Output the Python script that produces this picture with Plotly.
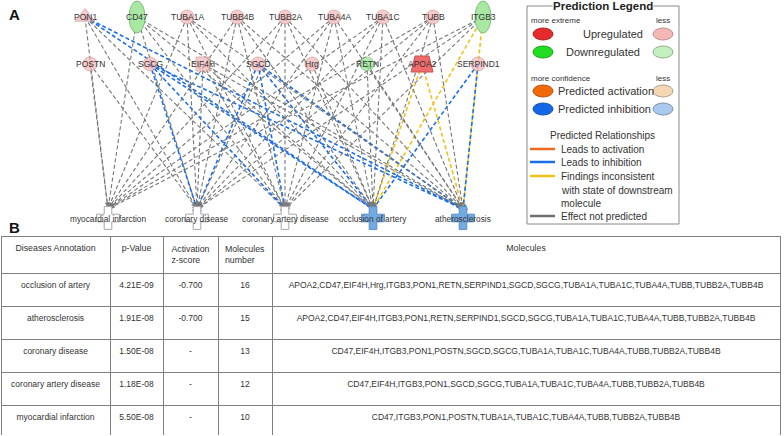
import plotly.graph_objects as go

# ---------------- data ----------------
top_row = ["PON1", "CD47", "TUBA1A", "TUBB4B", "TUBB2A", "TUBA4A", "TUBA1C", "TUBB", "ITGB3"]
mid_row = ["POSTN", "SGCG", "EIF4H", "SGCD", "Hrg", "RETN", "APOA2", "SERPIND1"]
disease_row = ["myocardial infarction", "coronary disease", "coronary artery disease",
               "occlusion of artery", "atherosclerosis"]

table_diseases = ["occlusion of artery", "atherosclerosis", "coronary disease",
                  "coronary artery disease", "myocardial infarction"]
p_values = ["4.21E-09", "1.91E-08", "1.50E-08", "1.18E-08", "5.50E-08"]
z_scores = ["-0.700", "-0.700", "-", "-", "-"]
molecule_counts = [16, 15, 13, 12, 10]
molecule_lists = [
    "APOA2,CD47,EIF4H,Hrg,ITGB3,PON1,RETN,SERPIND1,SGCD,SGCG,TUBA1A,TUBA1C,TUBA4A,TUBB,TUBB2A,TUBB4B",
    "APOA2,CD47,EIF4H,ITGB3,PON1,RETN,SERPIND1,SGCD,SGCG,TUBA1A,TUBA1C,TUBA4A,TUBB,TUBB2A,TUBB4B",
    "CD47,EIF4H,ITGB3,PON1,POSTN,SGCD,SGCG,TUBA1A,TUBA1C,TUBA4A,TUBB,TUBB2A,TUBB4B",
    "CD47,EIF4H,ITGB3,PON1,SGCD,SGCG,TUBA1A,TUBA1C,TUBA4A,TUBB,TUBB2A,TUBB4B",
    "CD47,ITGB3,PON1,POSTN,TUBA1A,TUBA1C,TUBA4A,TUBB,TUBB2A,TUBB4B",
]
inhibition_links = [
    ("PON1", "occlusion of artery"), ("PON1", "atherosclerosis"),
    ("SGCG", "coronary disease"), ("SGCG", "coronary artery disease"),
    ("SGCG", "occlusion of artery"), ("SGCG", "atherosclerosis"),
    ("SGCD", "coronary disease"), ("SGCD", "coronary artery disease"),
    ("SGCD", "occlusion of artery"), ("SGCD", "atherosclerosis"),
    ("SERPIND1", "occlusion of artery"), ("SERPIND1", "atherosclerosis"),
]
inconsistent_links = [
    ("ITGB3", "occlusion of artery"), ("ITGB3", "atherosclerosis"),
    ("APOA2", "occlusion of artery"), ("APOA2", "atherosclerosis"),
]
downregulated = ["CD47", "ITGB3", "RETN"]
strongly_up = ["APOA2"]
predicted_inhibited = ["occlusion of artery", "atherosclerosis"]

# ---------------- layout (pixel space) ----------------
W, H = 784, 436
top_x = [85, 137, 187, 237, 285, 334, 383, 433, 483]
mid_x = [90, 150, 203, 258, 312, 367, 422, 478]
dis_x = [108, 197, 285, 373, 463]
TOP_Y, MID_Y, DIS_Y = 17, 64, 218

pos = {}
for n, x in zip(top_row, top_x):
    pos[n] = (x, TOP_Y)
for n, x in zip(mid_row, mid_x):
    pos[n] = (x, MID_Y)
dpos = {n: (x, DIS_Y) for n, x in zip(disease_row, dis_x)}

GREY = "#777777"
BLUE = "#1a6ee8"
YELLOW = "#f2c21a"
ORANGE = "#ec6a1c"
PINK = "#f5b6b6"
PINK_LINE = "#c99a9a"
LGREEN = "#a9e8a2"
GREEN_LINE = "#80bf80"
FONT = "Liberation Sans, Arial, sans-serif"

fig = go.Figure()

# ---------------- edges ----------------
inh = set(inhibition_links)
inc = set(inconsistent_links)
for d, mols in zip(table_diseases, molecule_lists):
    for m in mols.split(","):
        x0, y0 = pos[m]
        x1, y1 = dpos[d]
        y1 = y1 - 9
        if (m, d) in inh:
            c, w, end, lw = BLUE, 1.6, "line-ew", 1.6
        elif (m, d) in inc:
            c, w, end, lw = YELLOW, 1.6, "arrow", 0
        else:
            c, w, end, lw = GREY, 1.1, "arrow", 0
        fig.add_trace(go.Scatter(
            x=[x0, x1], y=[y0, y1], mode="lines+markers",
            line=dict(color=c, width=w, dash="4px,2.5px"),
            marker=dict(symbol=["circle", end], size=[0, 7], angleref="previous",
                        color=c, line=dict(color=c, width=[0, lw])),
            hoverinfo="skip", showlegend=False))

# ---------------- molecule nodes ----------------
shapes = []
annotations = []
circ_x, circ_y, circ_c, circ_l, circ_s = [], [], [], [], []
for n, (x, y) in pos.items():
    if n in ("CD47", "ITGB3"):
        shapes.append(dict(type="circle", xref="x", yref="y", x0=x - 8, x1=x + 8,
                           y0=y - 16, y1=y + 16, fillcolor=LGREEN,
                           line=dict(color=GREEN_LINE, width=1)))
        continue
    if n in strongly_up:
        shapes.append(dict(type="path", xref="x", yref="y",
                           path=f"M{x-11},{y+8} L{x-7},{y-8} L{x+7},{y-8} L{x+11},{y+8} Z",
                           fillcolor="#ef6b6b", line=dict(color="#c85555", width=1)))
        continue
    circ_x.append(x)
    circ_y.append(y)
    if n in downregulated:
        circ_c.append("#8fe48f")
        circ_l.append(GREEN_LINE)
    else:
        circ_c.append(PINK)
        circ_l.append(PINK_LINE)
    circ_s.append("triangle-up" if n == "PON1" else ("square" if n == "EIF4H" else "circle"))

fig.add_trace(go.Scatter(
    x=circ_x, y=circ_y, mode="markers",
    marker=dict(symbol=circ_s, size=[17 if s == "triangle-up" else 14 for s in circ_s],
                color=circ_c, line=dict(color=circ_l, width=1)),
    hoverinfo="skip", showlegend=False))

for n, (x, y) in pos.items():
    annotations.append(dict(x=x, y=y, xref="x", yref="y", text=n, showarrow=False,
                            font=dict(family=FONT, size=8.5, color="#333")))

# ---------------- disease nodes ----------------
fig.add_trace(go.Scatter(
    x=[dpos[d][0] for d in disease_row], y=[dpos[d][1] for d in disease_row],
    mode="markers",
    marker=dict(symbol="cross", size=19,
                color=["#74aae2" if d in predicted_inhibited else "white" for d in disease_row],
                line=dict(color=["#5b8fc6" if d in predicted_inhibited else "#a8a8a8" for d in disease_row],
                          width=1)),
    hoverinfo="skip", showlegend=False))
for d in disease_row:
    x, y = dpos[d]
    annotations.append(dict(x=x, y=y + 1, xref="x", yref="y", text=d, showarrow=False,
                            font=dict(family=FONT, size=8.3, color="#333")))

# ---------------- panel letters ----------------
annotations.append(dict(x=14, y=14, xref="x", yref="y", text="<b>A</b>", showarrow=False,
                        font=dict(family=FONT, size=15, color="#111")))
annotations.append(dict(x=14, y=227, xref="x", yref="y", text="<b>B</b>", showarrow=False,
                        font=dict(family=FONT, size=15, color="#111")))

# ---------------- prediction legend ----------------
LX0, LX1, LY0, LY1 = 527, 679, 6, 224
shapes.append(dict(type="rect", xref="x", yref="y", x0=LX0, x1=LX1, y0=LY0, y1=LY1,
                   line=dict(color="#8a8a8a", width=1), fillcolor="rgba(0,0,0,0)"))
LFONT = "Liberation Sans, Arial, sans-serif"
annotations.append(dict(x=603, y=LY0, xref="x", yref="y", text="<b>Prediction Legend</b>",
                        showarrow=False, bgcolor="white", borderpad=0,
                        font=dict(family=LFONT, size=11.5, color="#222")))
small = dict(family=LFONT, size=8, color="#333")
mid = dict(family=LFONT, size=11, color="#333")
annotations += [
    dict(x=529, y=20, text="more extreme", xanchor="left", font=small),
    dict(x=663, y=20, text="less", font=small),
    dict(x=613, y=34, text="Upregulated", font=mid),
    dict(x=603, y=52, text="Downregulated", font=mid),
    dict(x=529, y=78, text="more confidence", xanchor="left", font=small),
    dict(x=663, y=78, text="less", font=small),
    dict(x=556, y=91, text="Predicted activation", xanchor="left", font=mid),
    dict(x=556, y=109, text="Predicted inhibition", xanchor="left", font=mid),
    dict(x=602, y=135, text="Predicted Relationships", font=dict(family=LFONT, size=10, color="#333")),
]
rel_font = dict(family=LFONT, size=10, color="#333")
for yy, t in [(149, "Leads to activation"), (162, "Leads to inhibition"),
              (176, "Findings inconsistent"), (190, "with state of downstream"),
              (203, "molecule"), (216, "Effect not predicted")]:
    annotations.append(dict(x=559, y=yy, text=t, xanchor="left", font=rel_font))
for a in annotations:
    a.setdefault("xref", "x")
    a.setdefault("yref", "y")
    a.setdefault("showarrow", False)

legend_ellipses = [
    (543, 34, "#e52b2b", "#b02020"), (663, 34, "#f5b6b6", "#c09090"),
    (543, 52, "#22dd22", "#18a018"), (663, 52, "#c4f0c0", "#90b090"),
    (543, 91, "#f06a08", "#b85010"), (663, 91, "#f6d7b4", "#b0a090"),
    (543, 109, "#1468e6", "#1050b0"), (663, 109, "#a9c9ee", "#8090a8"),
]
for cx, cy, fc, lc in legend_ellipses:
    shapes.append(dict(type="circle", xref="x", yref="y", x0=cx - 10, x1=cx + 10,
                       y0=cy - 6, y1=cy + 6, fillcolor=fc, line=dict(color=lc, width=1)))
for yy, c in [(149, ORANGE), (162, BLUE), (176, YELLOW), (216, "#6e6e6e")]:
    shapes.append(dict(type="line", xref="x", yref="y", x0=530, x1=555, y0=yy, y1=yy,
                       line=dict(color=c, width=2.5)))

# ---------------- table ----------------
HFONT = dict(family=FONT, size=8.8, color="#333")
CFONT = dict(family=FONT, size=8.5, color="#333")
fig.add_trace(go.Table(
    domain=dict(x=[1 / W, 780 / W], y=[1 - 435 / H, 1 - 236 / H]),
    columnwidth=[109, 53, 55, 54, 508],
    header=dict(values=["Diseases Annotation", "p-Value", "Activation<br>z-score",
                        "Molecules<br>number", "Molecules"],
                height=33, align="center", fill_color="white",
                line=dict(color="#808080", width=1), font=HFONT),
    cells=dict(values=[table_diseases, p_values, z_scores, molecule_counts, molecule_lists],
               height=33, align="center", fill_color="white",
               line=dict(color="#808080", width=1), font=CFONT),
))

fig.update_layout(
    width=W, height=H, margin=dict(l=0, r=0, t=0, b=0),
    paper_bgcolor="white", plot_bgcolor="white",
    xaxis=dict(range=[0, W], visible=False, fixedrange=True),
    yaxis=dict(range=[H, 0], visible=False, fixedrange=True),
    shapes=shapes, annotations=annotations, showlegend=False,
)
fig.write_html("out.html", config={"displayModeBar": False},
               post_script="document.body.style.margin='0';document.body.style.overflow='hidden';")
